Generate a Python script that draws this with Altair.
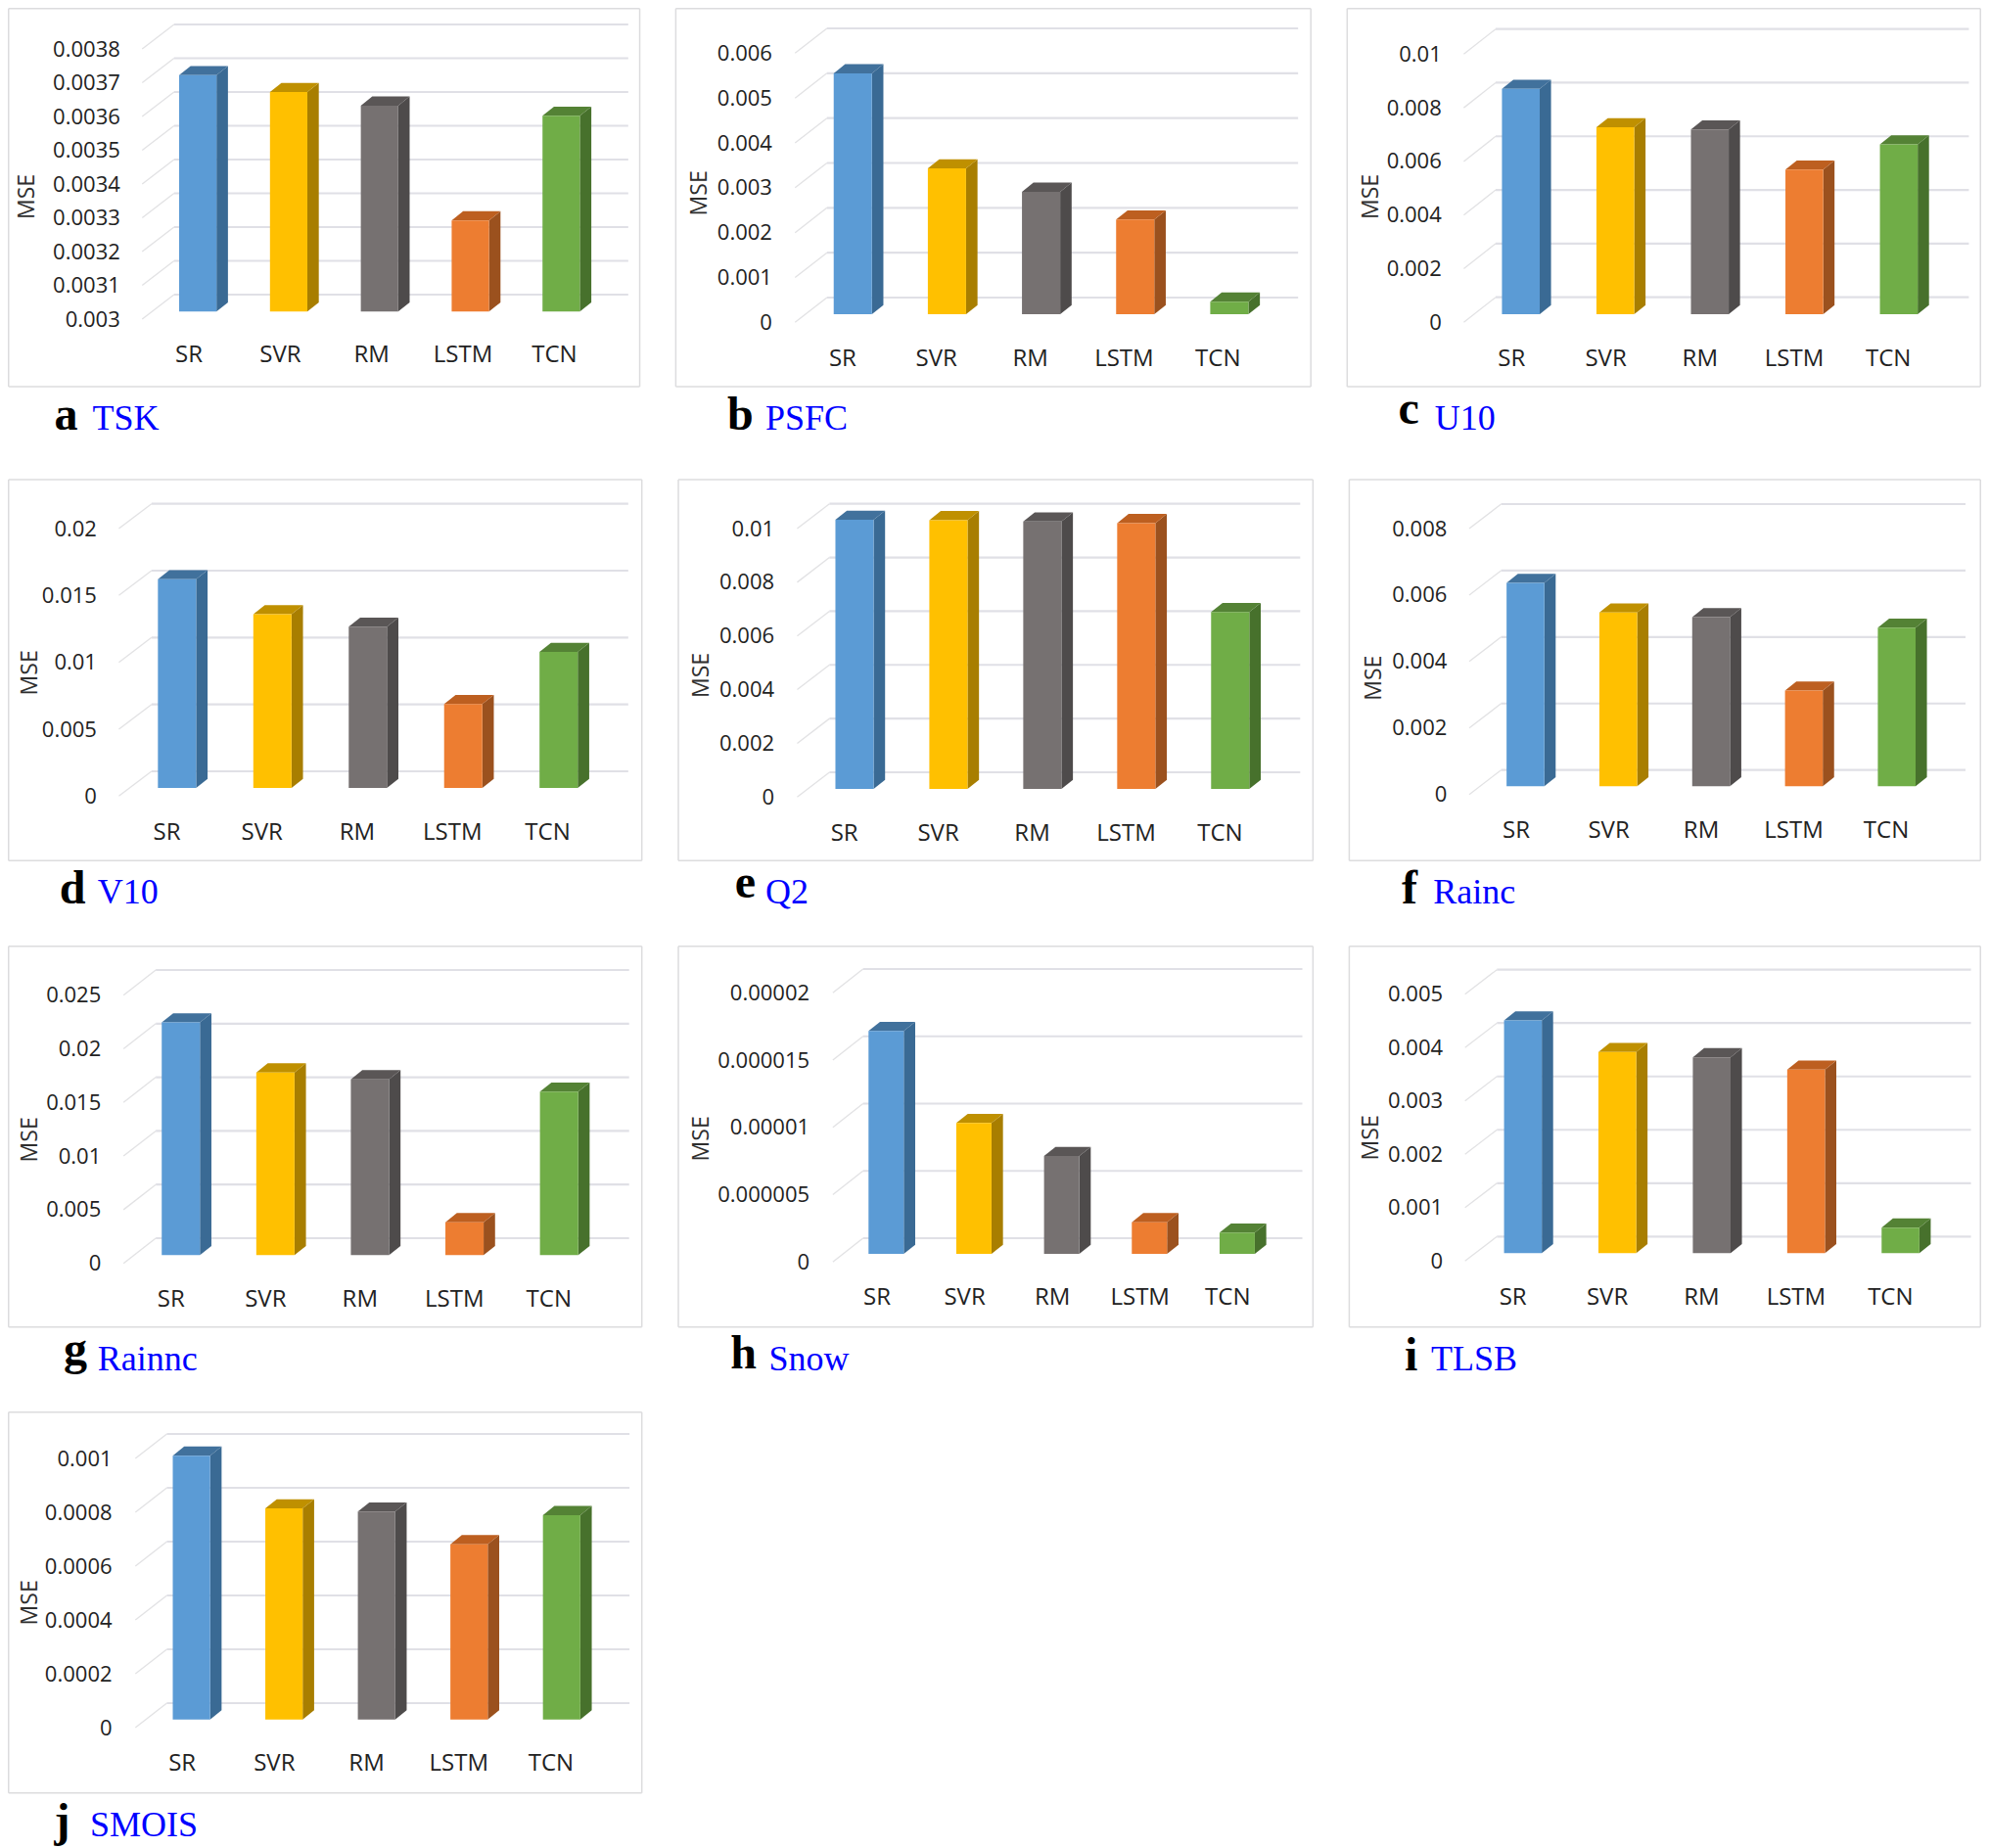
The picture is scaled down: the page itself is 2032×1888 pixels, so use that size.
import altair as alt
import pandas as pd

MODELS = ["SR", "SVR", "RM", "LSTM", "TCN"]

TSK = [0.0037, 0.00365, 0.00361, 0.00327, 0.00358]
PSFC = [0.00537, 0.00325, 0.00273, 0.00211, 0.00028]
U10 = [0.0084, 0.00697, 0.00689, 0.00539, 0.00633]
V10 = [0.0156, 0.01298, 0.01205, 0.00627, 0.01017]
Q2 = [0.01002, 0.01001, 0.00996, 0.0099, 0.00659]
RAINC = [0.00612, 0.00523, 0.00509, 0.00288, 0.00477]
RAINNC = [0.0217, 0.01703, 0.01639, 0.00307, 0.01524]
SNOW = [0.00001656, 0.00000972, 0.00000727, 0.00000235, 0.00000158]
TLSB = [0.00436, 0.00377, 0.00367, 0.00344, 0.00048]
SMOIS = [0.00098, 0.000784, 0.000772, 0.000651, 0.000759]

TICKS_TSK = [0.003, 0.0031, 0.0032, 0.0033, 0.0034, 0.0035, 0.0036, 0.0037, 0.0038]
TICKS_PSFC = [0, 0.001, 0.002, 0.003, 0.004, 0.005, 0.006]
TICKS_U10 = [0, 0.002, 0.004, 0.006, 0.008, 0.01]
TICKS_V10 = [0, 0.005, 0.01, 0.015, 0.02]
TICKS_Q2 = [0, 0.002, 0.004, 0.006, 0.008, 0.01]
TICKS_RAINC = [0, 0.002, 0.004, 0.006, 0.008]
TICKS_RAINNC = [0, 0.005, 0.01, 0.015, 0.02, 0.025]
TICKS_SNOW = [0, 0.000005, 0.00001, 0.000015, 0.00002]
TICKS_TLSB = [0, 0.001, 0.002, 0.003, 0.004, 0.005]
TICKS_SMOIS = [0, 0.0002, 0.0004, 0.0006, 0.0008, 0.001]

FRONT = ["#5B9BD5", "#FFC000", "#767171", "#ED7D31", "#70AD47"]
SIDE = ["#3A6A94", "#A87E00", "#4E4B4B", "#9B511E", "#47712C"]
TOP = ["#41719C", "#BF9000", "#5A5656", "#BD5F20", "#548235"]

W, H = 672, 468

# layout, measured in reference pixels via (origin, scale factor)
PANELS = [
    dict(let="a", name="TSK", vals=TSK, ticks=TICKS_TSK, o=(0, 0), w=680, fr=(10, 1507, 14, 1185), xs=(335, 410, 1480),
         lab=(978, 150), back=(903, 73), lr=282, base=955, left=(422, 1278), bw=88, xl=(444, 1305, 1087), mse=(65, 603),
         cap=(128, 1318, 218, 1318)),
    dict(let="b", name="PSFC", vals=PSFC, ticks=TICKS_PSFC, o=(680, 0), w=680, fr=(24, 1520, 14, 1185), xs=(305, 380, 1490),
         lab=(988, 163), back=(912, 85), lr=250, base=963, left=(396, 1283), bw=90, xl=(416, 1300, 1098), mse=(80, 592),
         cap=(145, 1318, 235, 1318)),
    dict(let="c", name="U10", vals=U10, ticks=TICKS_U10, o=(1360, 0), w=672, fr=(38, 1552, 14, 1185), xs=(316, 392, 1520),
         lab=(988, 166), back=(911, 90), lr=262, base=963, left=(407, 1308), bw=90, xl=(429, 1327, 1098), mse=(95, 603),
         cap=(160, 1300, 247, 1318)),
    dict(let="d", name="V10", vals=V10, ticks=TICKS_V10, o=(0, 480), w=680, fr=(17, 1512, 30, 1198), xs=(280, 357, 1480),
         lab=(1000, 180), back=(924, 103), lr=227, base=975, left=(372, 1271), bw=90, xl=(392, 1289, 1110), mse=(72, 622),
         cap=(140, 1330, 230, 1330)),
    dict(let="e", name="Q2", vals=Q2, ticks=TICKS_Q2, o=(680, 480), w=680, fr=(30, 1525, 30, 1198), xs=(310, 386, 1495),
         lab=(1003, 180), back=(927, 100), lr=255, base=978, left=(400, 1285), bw=90, xl=(420, 1305, 1113), mse=(85, 630),
         cap=(163, 1310, 235, 1330)),
    dict(let="f", name="Rainc", vals=RAINC, ticks=TICKS_RAINC, o=(1360, 480), w=672, fr=(43, 1557, 30, 1198), xs=(329, 405, 1512),
         lab=(995, 180), back=(920, 102), lr=275, base=970, left=(418, 1303), bw=90, xl=(440, 1322, 1104), mse=(103, 638),
         cap=(168, 1330, 243, 1330)),
    dict(let="g", name="Rainnc", vals=RAINNC, ticks=TICKS_RAINNC, o=(0, 955), w=680, fr=(17, 1512, 35, 1202), xs=(291, 367, 1482),
         lab=(1007, 185), back=(930, 103), lr=237, base=982, left=(381, 1272), bw=90, xl=(402, 1292, 1118), mse=(72, 628),
         cap=(150, 1318, 230, 1335)),
    dict(let="h", name="Snow", vals=SNOW, ticks=TICKS_SNOW, o=(680, 955), w=680, fr=(30, 1525, 35, 1202), xs=(394, 465, 1500),
         lab=(1003, 178), back=(930, 103), lr=338, base=978, left=(478, 1305), bw=83, xl=(497, 1323, 1112), mse=(85, 625),
         cap=(153, 1330, 243, 1335)),
    dict(let="i", name="TLSB", vals=TLSB, ticks=TICKS_TLSB, o=(1360, 955), w=672, fr=(43, 1557, 35, 1202), xs=(319, 395, 1525),
         lab=(1000, 182), back=(925, 103), lr=265, base=976, left=(412, 1312), bw=90, xl=(432, 1332, 1112), mse=(95, 622),
         cap=(175, 1335, 238, 1335)),
    dict(let="j", name="SMOIS", vals=SMOIS, ticks=TICKS_SMOIS, o=(0, 1430), w=680, fr=(17, 1512, 38, 1205), xs=(319, 393, 1483),
         lab=(1005, 180), back=(930, 102), lr=263, base=980, left=(407, 1279), bw=88, xl=(428, 1297, 1115), mse=(72, 622),
         cap=(128, 1338, 212, 1338)),
]

FONT = "Open Sans"
SERIF = "Liberation Serif"
DEPTH_X, DEPTH_Y = 27, 28


def panel(p, row, col):
    fx = 1568 / p["w"]
    ox, oy = p["o"]
    X = lambda v: ox + v / fx - (8 + col * W)
    Y = lambda v: oy + v / 3.0 - (8 + row * H)

    ticks = p["ticks"]
    vmin, vmax = ticks[0], ticks[-1]
    offset_px = Y(p["lab"][0]) - Y(p["base"])
    p0 = Y(p["base"])
    p1 = Y(p["lab"][1]) - offset_px
    ppu = (p0 - p1) / (vmax - vmin)

    x0, x4, xl_y = p["xl"]
    pitch = (X(x4) - X(x0)) / 4
    xd = lambda px: 0.5 + (px - X(x0)) / pitch
    rx0 = X(x0) - 0.5 * pitch
    rx1 = rx0 + 5 * pitch

    xscale = alt.Scale(domain=[0, 5], range=[rx0, rx1], nice=False, zero=False)
    yscale = alt.Scale(domain=[vmin, vmax], range=[p0, p1], nice=False, zero=False)

    labels = "[" + ",".join(f"'{m}'" for m in MODELS) + "][floor(datum.value)]"
    x_axis = alt.Axis(
        values=[0.5, 1.5, 2.5, 3.5, 4.5], labelExpr=labels, orient="bottom",
        offset=-(H - Y(xl_y)), domain=False, ticks=False, grid=False, tickSize=0, title=None,
        labelPadding=0, labelAngle=0, labelFont=FONT, labelFontSize=24, labelColor="#222222",
        labelBaseline="middle", labelAlign="center", labelOverlap=False, labelFlush=False, labelBound=False)
    y_axis = alt.Axis(
        values=ticks, labelExpr="'' + datum.value", orient="left",
        offset=-X(p["lr"]), domain=False, ticks=False, grid=False, tickSize=0, title=None,
        labelPadding=0, labelOffset=offset_px, labelFont=FONT, labelFontSize=22, labelColor="#222222",
        labelBaseline="middle", labelAlign="right", labelOverlap=False, labelFlush=False, labelBound=False)

    def ex(f="x"):
        return alt.X(f + ":Q", scale=xscale, axis=x_axis)

    def ey(f="y"):
        return alt.Y(f + ":Q", scale=yscale, axis=y_axis, stack=None)

    layers = []

    # frame (kept inside the drawable page area)
    L, R, T, B = X(p["fr"][0]), X(p["fr"][1]), Y(p["fr"][2]), Y(p["fr"][3])
    L, T = max(L, 0.75), max(T, 0.75)
    R = min(R, W - 0.75)
    frame_src = alt.Chart(pd.DataFrame({"k": [0]}))
    for a, b, c in [(L, R, T), (L, R, B)]:
        layers.append(frame_src.mark_rule(color="#DCDCDE", size=1.5).encode(
            x=alt.value(a), x2=alt.value(b), y=alt.value(c)))
    for a, b, c in [(T, B, L), (T, B, R)]:
        layers.append(frame_src.mark_rule(color="#DCDCDE", size=1.5).encode(
            y=alt.value(a), y2=alt.value(b), x=alt.value(c)))

    # back gridlines and slanted floor ticks
    xs, xe, xr = xd(X(p["xs"][0])), xd(X(p["xs"][1])), xd(X(p["xs"][2]))
    up = (Y(p["base"]) - Y(p["back"][0])) / ppu
    down = offset_px / ppu
    grid = pd.DataFrame({"v": ticks, "y": [t + up for t in ticks], "x": xe, "x2": xr})
    slant = pd.DataFrame(
        [{"t": i, "x": xs, "y": t - down} for i, t in enumerate(ticks)]
        + [{"t": i, "x": xe, "y": t + up} for i, t in enumerate(ticks)]
    )
    layers.append(alt.Chart(slant).mark_line(color="#E2E2E4", strokeWidth=1.3).encode(
        x=ex(), y=ey(), detail="t:N"))
    layers.append(alt.Chart(grid).mark_rule(color="#E0E0E6", size=2.2).encode(
        x=ex(), x2="x2:Q", y=ey()))

    # 3-D bars
    lf0, lf4 = X(p["left"][0]), X(p["left"][1])
    bpitch = (lf4 - lf0) / 4
    bw = p["bw"] / fx
    dxu = (DEPTH_X / fx) / pitch
    dyu = (DEPTH_Y / 3.0) / ppu
    front, side, top = [], [], []
    for i, (m, v) in enumerate(zip(MODELS, p["vals"])):
        l = xd(lf0 + i * bpitch)
        r = xd(lf0 + i * bpitch + bw)
        front.append({"m": m, "x": l, "x2": r, "y": v, "y2": vmin, "c": FRONT[i]})
        side.append({"m": m, "x": r, "y": v, "y2": vmin, "c": SIDE[i]})
        side.append({"m": m, "x": r + dxu, "y": v + dyu, "y2": vmin + dyu, "c": SIDE[i]})
        top.append({"m": m, "x": l, "x2": r, "y": v, "c": TOP[i]})
        top.append({"m": m, "x": l + dxu, "x2": r + dxu, "y": v + dyu, "c": TOP[i]})
    col_enc = alt.Color("c:N", scale=None, legend=None)
    layers.append(alt.Chart(pd.DataFrame(side)).mark_area(opacity=1).encode(
        x=ex(), y=ey(), y2="y2:Q", color=col_enc, detail="m:N"))
    layers.append(alt.Chart(pd.DataFrame(top)).mark_area(orient="horizontal", opacity=1).encode(
        y=ey(), x=ex(), x2="x2:Q", color=col_enc, detail="m:N"))
    layers.append(alt.Chart(pd.DataFrame(front)).mark_bar(opacity=1).encode(
        x=ex(), x2="x2:Q", y=ey(), y2="y2:Q", color=col_enc))

    # MSE label and caption
    layers.append(alt.Chart(pd.DataFrame({"t": ["MSE"]})).mark_text(
        angle=270, font=FONT, fontSize=23, color="#2E2E2E", align="center", baseline="middle").encode(
        text="t:N", x=alt.value(X(p["mse"][0])), y=alt.value(Y(p["mse"][1]))))
    lx, ly, nx, ny = p["cap"]
    layers.append(alt.Chart(pd.DataFrame({"t": [p["let"]]})).mark_text(
        font=SERIF, fontWeight="bold", fontSize=48, color="#000000", align="left", baseline="alphabetic").encode(
        text="t:N", x=alt.value(X(lx)), y=alt.value(Y(ly))))
    layers.append(alt.Chart(pd.DataFrame({"t": [p["name"]]})).mark_text(
        font=SERIF, fontSize=36, color="#0000FF", align="left", baseline="alphabetic").encode(
        text="t:N", x=alt.value(X(nx)), y=alt.value(Y(ny))))

    return alt.layer(*layers).properties(width=W, height=H)


cells = [panel(p, i // 3, i % 3) for i, p in enumerate(PANELS)]
chart = alt.concat(*cells, columns=3, spacing=0, bounds="flush").properties(padding=0).configure_view(stroke=None)
chart.save("out.html", embed_options={"renderer": "svg", "actions": False})
